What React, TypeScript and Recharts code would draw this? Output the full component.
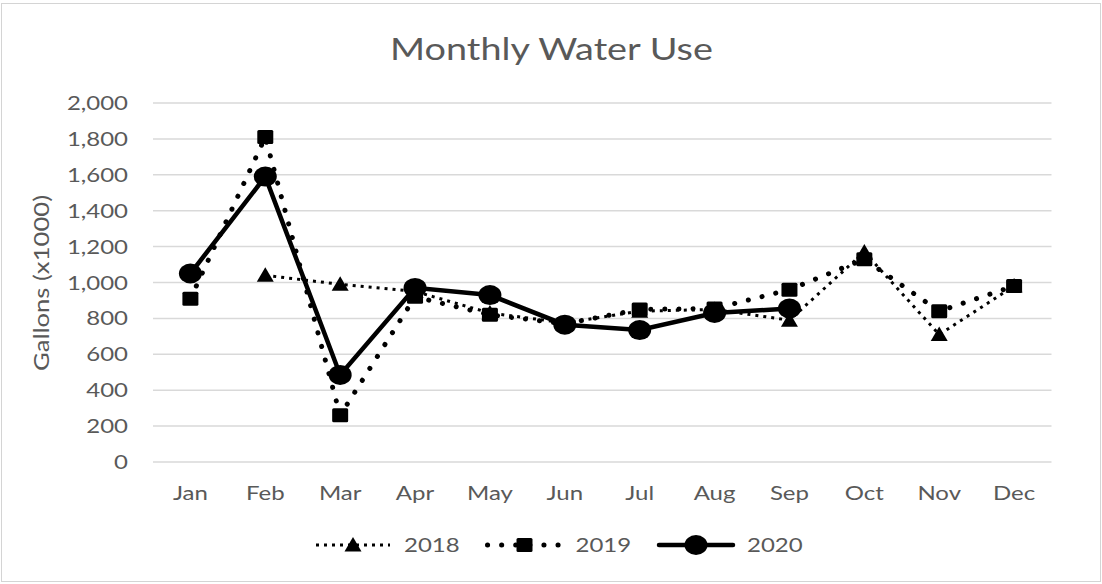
import React from 'react';
import { LineChart, Line, XAxis, YAxis, CartesianGrid, Legend } from 'recharts';

const months = ['Jan', 'Feb', 'Mar', 'Apr', 'May', 'Jun', 'Jul', 'Aug', 'Sep', 'Oct', 'Nov', 'Dec'];
const use2018: (number | null)[] = [null, 1040, 990, 950, 830, 775, 840, 850, 790, 1170, 710, 980];
const use2019: (number | null)[] = [910, 1810, 260, 920, 820, 770, 850, 855, 960, 1130, 840, 980];
const use2020: (number | null)[] = [1050, 1590, 485, 970, 930, 765, 735, 830, 855, null, null, null];
const yTicks = [0, 200, 400, 600, 800, 1000, 1200, 1400, 1600, 1800, 2000];
const seriesNames = ['2018', '2019', '2020'];
const title = 'Monthly Water Use';
const yLabel = 'Gallons (x1000)';

const data = months.map((m, i) => ({
  month: m,
  s2018: use2018[i],
  s2019: use2019[i],
  s2020: use2020[i],
}));

const FONT = 'Lato, "Open Sans", sans-serif';
const TXT = '#595959';
const SX = 1.2;

const styles: Record<string, { dash?: string; width: number; cap: 'butt' | 'round' }> = {
  '2018': { dash: '3 5', width: 3, cap: 'butt' },
  '2019': { dash: '0.1 14', width: 5, cap: 'round' },
  '2020': { dash: undefined, width: 4.5, cap: 'round' },
};

const Marker = ({ kind, cx, cy }: { kind: string; cx: number; cy: number }) => {
  if (kind === '2018') {
    return <polygon points={`${cx},${cy - 8} ${cx + 8.5},${cy + 6.5} ${cx - 8.5},${cy + 6.5}`} fill="#000" />;
  }
  if (kind === '2019') {
    return <rect x={cx - 8} y={cy - 7} width={16} height={14} rx={1.5} fill="#000" />;
  }
  return <ellipse cx={cx} cy={cy} rx={11.5} ry={10} fill="#000" />;
};

const makeDot = (kind: string) => (props: any) => {
  const { cx, cy, index, value } = props;
  if (cx == null || cy == null || value == null || Number.isNaN(cy)) return <g key={`d-${kind}-${index}`} />;
  return (
    <g key={`d-${kind}-${index}`}>
      <Marker kind={kind} cx={cx} cy={cy} />
    </g>
  );
};

const fmt = (v: number) => v.toLocaleString('en-US');

const YTick = (props: any) => {
  const { x, y, payload } = props;
  return (
    <g transform={`translate(${x},${y})`}>
      <text transform={`scale(${SX},1)`} textAnchor="end" dy={7} fontFamily={FONT} fontSize={20} fill={TXT}>
        {fmt(payload.value)}
      </text>
    </g>
  );
};

const XTick = (props: any) => {
  const { x, y, payload } = props;
  return (
    <g transform={`translate(${x},${y})`}>
      <text transform={`scale(${SX},1)`} textAnchor="middle" dy={38} fontFamily={FONT} fontSize={20} fill={TXT}>
        {payload.value}
      </text>
    </g>
  );
};

const LegendContent = () => {
  const start = 316;
  const step = 171.5;
  const sample = 74;
  return (
    <svg width={1102} height={30} style={{ display: 'block' }}>
      {seriesNames.map((name, i) => {
        const x0 = start + i * step;
        const st = styles[name];
        return (
          <g key={name}>
            <line
              x1={x0}
              x2={x0 + sample}
              y1={15}
              y2={15}
              stroke="#000"
              strokeWidth={st.width}
              strokeDasharray={st.dash}
              strokeLinecap={st.cap}
            />
            <Marker kind={name} cx={x0 + sample / 2} cy={15} />
            <g transform={`translate(${x0 + sample + 14},15)`}>
              <text transform={`scale(${SX},1)`} dy={7} fontFamily={FONT} fontSize={20} fill={TXT}>
                {name}
              </text>
            </g>
          </g>
        );
      })}
    </svg>
  );
};

export default function App() {
  return (
    <div style={{ position: 'absolute', left: 0, top: 0, width: 1102, height: 584, background: '#fff' }}>
      <div
        style={{
          position: 'absolute',
          left: 1,
          top: 3,
          width: 1100,
          height: 579,
          border: '1.5px solid #d4d4d4',
          boxSizing: 'border-box',
        }}
      />
      <LineChart
        width={1102}
        height={584}
        data={data}
        margin={{ top: 103, right: 50.5, bottom: 82, left: 0 }}
      >
        <CartesianGrid horizontal vertical={false} stroke="#d9d9d9" strokeWidth={1.5} />
        <XAxis
          dataKey="month"
          axisLine={false}
          tickLine={false}
          tickSize={0}
          tickMargin={0}
          height={40}
          padding={{ left: 37.4, right: 37.4 }}
          tick={<XTick />}
          interval={0}
        />
        <YAxis
          domain={[0, 2000]}
          ticks={yTicks}
          axisLine={false}
          tickLine={false}
          tickSize={0}
          tickMargin={25}
          width={153}
          tick={<YTick />}
          interval={0}
        />
        {seriesNames.map((name) => (
          <Line
            key={name}
            type="linear"
            dataKey={`s${name}`}
            name={name}
            stroke="#000"
            strokeWidth={styles[name].width}
            strokeDasharray={styles[name].dash}
            strokeLinecap={styles[name].cap}
            dot={makeDot(name)}
            activeDot={false}
            isAnimationActive={false}
            connectNulls={false}
          />
        ))}
        <Legend
          verticalAlign="middle"
          align="center"
          layout="horizontal"
          content={<LegendContent />}
          wrapperStyle={{ top: 530, left: 0, width: 1102, height: 30 }}
        />
      </LineChart>
      <svg width={1102} height={584} style={{ position: 'absolute', left: 0, top: 0, pointerEvents: 'none' }}>
        <g transform={`translate(551.5,59.5) scale(${SX},1)`}>
          <text textAnchor="middle" fontFamily={FONT} fontSize={31.5} fill={TXT}>
            {title}
          </text>
        </g>
        <g transform={`translate(41,283) rotate(-90)`}>
          <text
            textAnchor="middle"
            dy={7.5}
            fontFamily={FONT}
            fontSize={21}
            fill={TXT}
            textLength={176}
            lengthAdjust="spacingAndGlyphs"
          >
            {yLabel}
          </text>
        </g>
      </svg>
    </div>
  );
}
